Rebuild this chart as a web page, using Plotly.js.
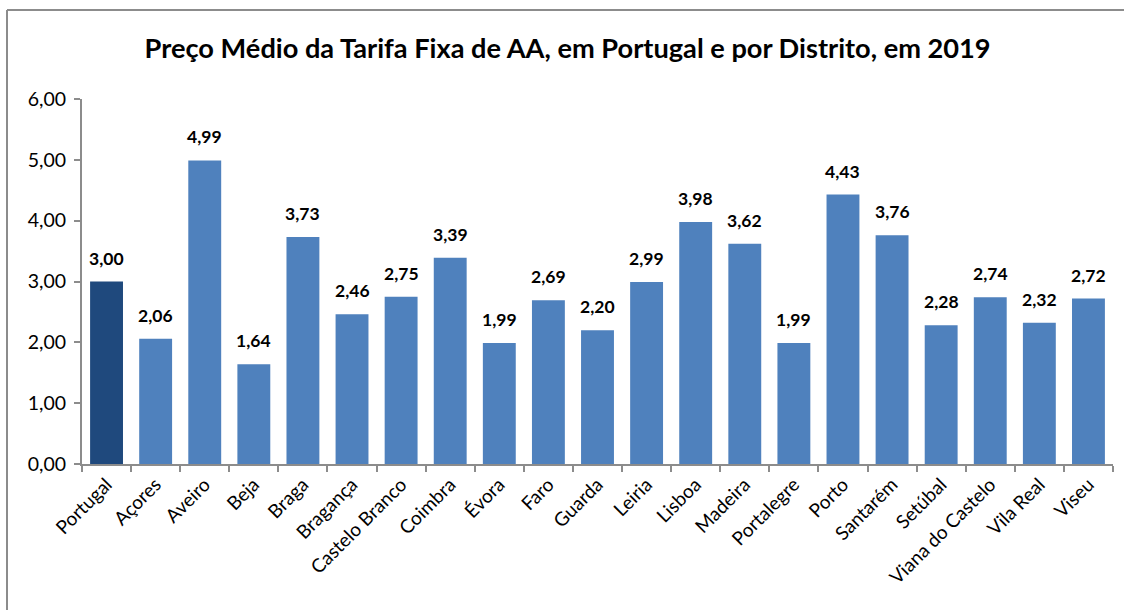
<!DOCTYPE html>
<html>
<head>
<meta charset="utf-8">
<script src="https://cdn.plot.ly/plotly-3.0.1.min.js"></script>
<style>
  html, body { margin: 0; padding: 0; background: #fff; overflow: hidden; }
  #chart { width: 1133px; height: 610px; }
</style>
</head>
<body>
<div id="chart"></div>
<script>
const categories = ["Portugal", "Açores", "Aveiro", "Beja", "Braga", "Bragança", "Castelo Branco",
  "Coimbra", "Évora", "Faro", "Guarda", "Leiria", "Lisboa", "Madeira", "Portalegre", "Porto",
  "Santarém", "Setúbal", "Viana do Castelo", "Vila Real", "Viseu"];
const values = [3.00, 2.06, 4.99, 1.64, 3.73, 2.46, 2.75, 3.39, 1.99, 2.69, 2.20, 2.99, 3.98,
  3.62, 1.99, 4.43, 3.76, 2.28, 2.74, 2.32, 2.72];
const titleText = "Preço Médio da Tarifa Fixa de AA, em Portugal e por Distrito, em 2019";
const yTickVals = [0, 1, 2, 3, 4, 5, 6];

const FONT = "Lato, 'Open Sans', sans-serif";
const colors = categories.map((c, i) => i === 0 ? "#1F497D" : "#4F81BD");

const W = 1133, H = 610;
const M = { l: 82, r: 20, t: 99, b: 146 };
const pw = W - M.l - M.r, ph = H - M.t - M.b;

const trace = {
  type: "bar",
  x: categories,
  y: values,
  marker: { color: colors, line: { width: 0 } },
  hoverinfo: "x+y"
};

const annotations = categories.map((c, i) => ({
  x: c, y: values[i], xref: "x", yref: "y",
  text: values[i].toFixed(2).replace(".", ","),
  showarrow: false, yanchor: "bottom", yshift: 11,
  font: { family: FONT, size: 17.5, color: "#000", weight: "bold" }
}));

// outer chart frame: left edge and top edge
const frameLeft = {
  type: "line", xref: "paper", yref: "paper", layer: "below",
  x0: (7 - M.l) / pw, x1: (7 - M.l) / pw,
  y0: -1, y1: (H - M.b - 10) / ph,
  line: { color: "#8c8c8c", width: 2 }
};
const frameTop = {
  type: "line", xref: "paper", yref: "paper", layer: "below",
  x0: (7 - M.l) / pw, x1: (1124 - M.l) / pw,
  y0: (H - M.b - 10) / ph, y1: (H - M.b - 10) / ph,
  line: { color: "#8c8c8c", width: 2 }
};

const layout = {
  width: W, height: H,
  margin: M,
  paper_bgcolor: "#fff", plot_bgcolor: "#fff",
  separators: ", ",
  showlegend: false,
  bargap: 0.33,
  title: {
    text: "<b>" + titleText + "</b>",
    x: 0.501, xref: "container", xanchor: "center",
    y: 0.921, yref: "container", yanchor: "middle",
    font: { family: FONT, size: 27.2, color: "#000" }
  },
  xaxis: {
    type: "category",
    tickangle: -45,
    ticks: "outside", tickson: "boundaries", ticklen: 6, tickwidth: 2, tickcolor: "#8c8c8c",
    showline: true, linecolor: "#8c8c8c", linewidth: 2,
    showgrid: false, zeroline: false,
    tickfont: { family: FONT, size: 19, color: "#000" },
    fixedrange: true
  },
  yaxis: {
    range: [0, 6],
    tickvals: yTickVals,
    tickformat: ".2f",
    ticks: "outside", ticklen: 6, tickwidth: 2, tickcolor: "#8c8c8c",
    showline: true, linecolor: "#8c8c8c", linewidth: 2,
    showgrid: false, zeroline: false,
    tickfont: { family: FONT, size: 19.5, color: "#000" },
    ticklabelstandoff: 4,
    fixedrange: true
  },
  shapes: [frameLeft, frameTop],
  annotations: annotations
};

Plotly.newPlot("chart", [trace], layout, { displayModeBar: false, staticPlot: true });
</script>
</body>
</html>
